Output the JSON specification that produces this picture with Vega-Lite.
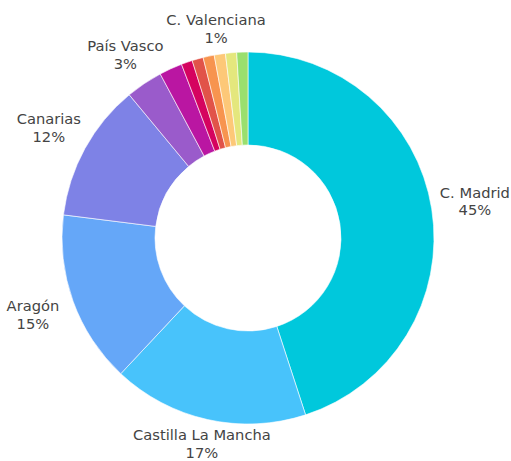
{
  "$schema": "https://vega.github.io/schema/vega-lite/v6.json",
  "width": 496,
  "height": 476,
  "padding": {"left": 0, "top": 0, "right": 15, "bottom": 0},
  "autosize": {"type": "none"},
  "background": "white",
  "config": {"view": {"stroke": null}},
  "data": {
    "values": [
      {"idx": 1, "region": "C. Madrid", "value": 45, "etiqueta": "C. Madrid\n45%"},
      {"idx": 2, "region": "Castilla La Mancha", "value": 17, "etiqueta": "Castilla La Mancha\n17%"},
      {"idx": 3, "region": "Aragón", "value": 15, "etiqueta": "Aragón\n15%"},
      {"idx": 4, "region": "Canarias", "value": 12, "etiqueta": "Canarias\n12%"},
      {"idx": 5, "region": "País Vasco", "value": 3.2, "etiqueta": "País Vasco\n3%"},
      {"idx": 6, "region": "Cataluña", "value": 2.0, "etiqueta": ""},
      {"idx": 7, "region": "Andalucía", "value": 0.97, "etiqueta": ""},
      {"idx": 8, "region": "Castilla y León", "value": 0.97, "etiqueta": ""},
      {"idx": 9, "region": "Galicia", "value": 0.97, "etiqueta": ""},
      {"idx": 10, "region": "C. Valenciana", "value": 0.97, "etiqueta": "C. Valenciana\n1%"},
      {"idx": 11, "region": "Navarra", "value": 0.97, "etiqueta": ""},
      {"idx": 12, "region": "Murcia", "value": 0.97, "etiqueta": ""}
    ]
  },
  "encoding": {
    "theta": {"field": "value", "type": "quantitative", "stack": true},
    "order": {"field": "idx", "type": "quantitative", "sort": "ascending"},
    "color": {
      "field": "region",
      "type": "nominal",
      "legend": null,
      "scale": {
        "domain": ["C. Madrid", "Castilla La Mancha", "Aragón", "Canarias", "País Vasco", "Cataluña", "Andalucía", "Castilla y León", "Galicia", "C. Valenciana", "Navarra", "Murcia"],
        "range": ["#00C8DC", "#48C3FB", "#65A7F8", "#7E82E6", "#9A5BCB", "#BA16A2", "#D5035F", "#E15349", "#F7944F", "#FDC878", "#E4E77D", "#9ADF6E"]
      }
    }
  },
  "layer": [
    {
      "mark": {"type": "arc", "outerRadius": 186, "innerRadius": 93, "stroke": "#ffffff", "strokeWidth": 0.6}
    },
    {
      "mark": {"type": "text", "radius": {"expr": "207 + 23*abs(sin(PI*(datum.value_start+datum.value_end)/100.02))"}, "align": "center", "baseline": "middle", "dy": -8.5, "lineBreak": "\n", "lineHeight": 17.5, "font": "DejaVu Sans", "fontSize": 14.7, "color": "#444444"},
      "encoding": {
        "text": {"field": "etiqueta", "type": "nominal"},
        "color": {"value": "#444444"}
      }
    }
  ]
}
